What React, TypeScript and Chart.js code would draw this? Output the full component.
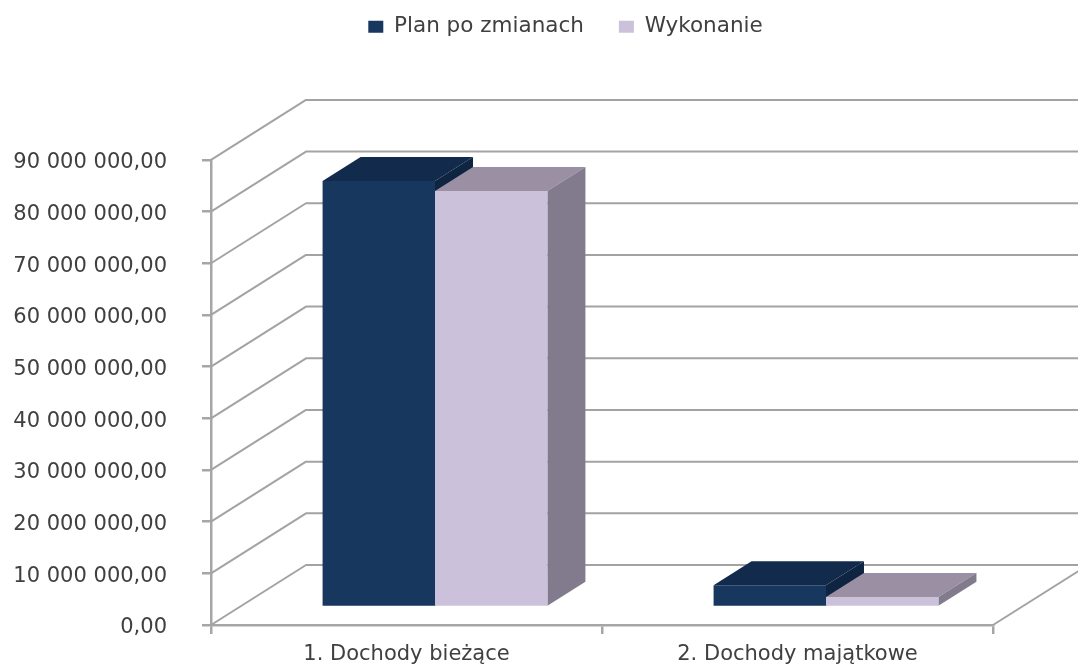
import React, { useEffect, useRef } from "react";
import { Chart, registerables } from "chart.js";

Chart.register(...registerables);

const categories = ["1. Dochody bieżące", "2. Dochody majątkowe"];
const planPoZmianach = [82450000, 4200000];
const wykonanie = [80500000, 1940000];
const seriesNames = ["Plan po zmianach", "Wykonanie"];
const frontColors = ["#17375E", "#CCC1DA"];
const topColors = ["#122B4C", "#9A8FA3"];
const sideColors = ["#0F2441", "#827B8D"];

const FONT = "'DejaVu Sans', sans-serif";
const TEXT = "#404040";
const GRID = "#a3a3a3";
const AXIS = "#a6a6a6";

// 3D projection of the reference
const WALL_DX = 95;
const WALL_DY = -60;
const BAR_SHIFT_X = 28.5;
const BAR_SHIFT_Y = -18;
const BAR_DEPTH_X = 38;
const BAR_DEPTH_Y = -24;

const fmt = (v: number) => {
  const s = Math.round(v).toString().replace(/\B(?=(\d{3})+(?!\d))/g, " ");
  return s + ",00";
};

const poly = (ctx: CanvasRenderingContext2D, pts: number[][], fill: string) => {
  ctx.beginPath();
  pts.forEach((p, i) => (i ? ctx.lineTo(p[0], p[1]) : ctx.moveTo(p[0], p[1])));
  ctx.closePath();
  ctx.fillStyle = fill;
  ctx.fill();
};

const threeD = {
  id: "threeD",
  afterLayout(chart: any) {
    const l = chart.legend;
    l.left += 69;
    l.right += 69;
    const h = l.height;
    l.top = -18.9;
    l.bottom = l.top + h;
  },
  beforeDatasetsDraw(chart: any) {
    const { ctx, scales, canvas } = chart;
    const { x, y } = scales;
    ctx.save();
    ctx.strokeStyle = GRID;
    ctx.lineWidth = 2;
    ctx.lineJoin = "round";
    const W = canvas.width;
    y.ticks.forEach((t: any) => {
      const py = y.getPixelForValue(t.value);
      ctx.beginPath();
      ctx.moveTo(x.left, py);
      ctx.lineTo(x.left + WALL_DX, py + WALL_DY);
      ctx.lineTo(W, py + WALL_DY);
      ctx.stroke();
    });
    ctx.beginPath();
    ctx.moveTo(x.right, y.bottom);
    ctx.lineTo(x.right + WALL_DX, y.bottom + WALL_DY);
    ctx.stroke();

    ctx.translate(BAR_SHIFT_X, BAR_SHIFT_Y);
    categories.forEach((_, i) => {
      [0, 1].forEach((d) => {
        const b = chart.getDatasetMeta(d).data[i].getProps(["x", "y", "base", "width"], true);
        const l = b.x - b.width / 2;
        const r = b.x + b.width / 2;
        poly(ctx, [[l, b.y], [l + BAR_DEPTH_X, b.y + BAR_DEPTH_Y], [r + BAR_DEPTH_X, b.y + BAR_DEPTH_Y], [r, b.y]], topColors[d]);
        poly(ctx, [[r, b.y], [r + BAR_DEPTH_X, b.y + BAR_DEPTH_Y], [r + BAR_DEPTH_X, b.base + BAR_DEPTH_Y], [r, b.base]], sideColors[d]);
      });
    });
    ctx.restore();
    ctx.save();
    ctx.translate(BAR_SHIFT_X, BAR_SHIFT_Y);
  },
  afterDatasetsDraw(chart: any) {
    chart.ctx.restore();
  },
};

export default function App() {
  const ref = useRef<HTMLCanvasElement>(null);
  useEffect(() => {
    document.body.style.margin = "0";
    const chart = new Chart(ref.current as HTMLCanvasElement, {
      type: "bar",
      data: {
        labels: categories,
        datasets: [
          { label: seriesNames[0], data: planPoZmianach, backgroundColor: frontColors[0], clip: false },
          { label: seriesNames[1], data: wykonanie, backgroundColor: frontColors[1], clip: false },
        ],
      } as any,
      plugins: [threeD],
      options: {
        responsive: false,
        maintainAspectRatio: false,
        animation: false,
        layout: { padding: { top: 93.4, right: 85, left: 0, bottom: 0 } },
        datasets: { bar: { barPercentage: 1, categoryPercentage: 0.575 } },
        plugins: {
          tooltip: { enabled: false },
          legend: {
            display: true,
            position: "top",
            labels: {
              boxWidth: 15,
              boxHeight: 12,
              padding: 35,
              color: TEXT,
              font: { family: FONT, size: 21.5 },
            },
          },
        },
        scales: {
          x: {
            afterFit: (s: any) => { s.height = 39; },
            border: { display: true, color: AXIS, width: 2.5 },
            grid: { display: true, drawOnChartArea: false, drawTicks: true, tickLength: 9, color: AXIS, lineWidth: 2.5 },
            ticks: { color: TEXT, font: { family: FONT, size: 21 }, padding: 7.5, maxRotation: 0, autoSkip: false },
          },
          y: {
            min: 0,
            max: 90000000,
            afterFit: (s: any) => { s.width = 211; s.paddingTop = 0; s.paddingBottom = 0; },
            border: { display: true, color: AXIS, width: 2.5 },
            grid: { display: true, drawOnChartArea: false, drawTicks: true, tickLength: 9, color: AXIS, lineWidth: 2.5 },
            ticks: {
              stepSize: 10000000,
              color: TEXT,
              padding: 35,
              labelOffset: 3,
              font: { family: FONT, size: 21 },
              callback: (v: any) => fmt(Number(v)),
            },
          },
        },
      } as any,
    });
    return () => chart.destroy();
  }, []);
  return (
    <div style={{ position: "absolute", left: 0, top: 0, width: 1078, height: 664, overflow: "hidden", background: "#fff" }}>
      <canvas ref={ref} width={1078} height={664} style={{ display: "block" }} />
    </div>
  );
}
